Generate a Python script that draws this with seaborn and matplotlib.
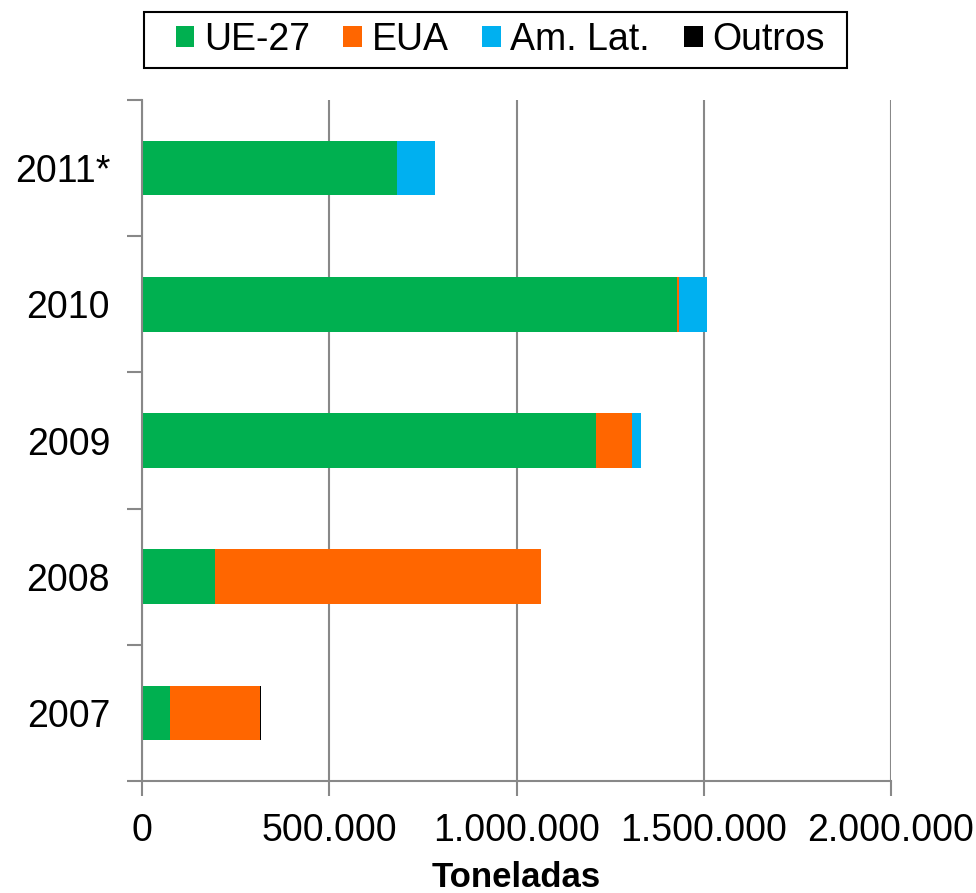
import matplotlib
matplotlib.use("Agg")
import matplotlib.pyplot as plt
import seaborn as sns
import numpy as np
import pandas as pd
from matplotlib.patches import Patch, Rectangle
from matplotlib.ticker import FuncFormatter, FixedLocator

# Data (toneladas)
anos = ["2011*", "2010", "2009", "2008", "2007"]
ue27 = [681000, 1428000, 1212000, 195000, 75000]
eua = [0, 5000, 96000, 871000, 240000]
amlat = [101000, 76000, 24000, 0, 0]
outros = [0, 0, 0, 0, 3000]

series_names = ["UE-27", "EUA", "Am. Lat.", "Outros"]
colors = ["#00B050", "#FF6600", "#00B0F0", "#000000"]

sns.set_theme(style="white")
plt.rcParams["font.family"] = ["Liberation Sans", "DejaVu Sans"]
plt.rcParams["text.color"] = "black"
plt.rcParams["axes.labelcolor"] = "black"
plt.rcParams["xtick.color"] = "black"
plt.rcParams["ytick.color"] = "black"

fig = plt.figure(figsize=(9.76, 8.93), dpi=100)
ax = fig.add_axes([142/976, 1 - 781/893, (891-142)/976, (781-100)/893])

vals = np.array([ue27, eua, amlat, outros], dtype=float)
cum = np.cumsum(vals, axis=0)

# draw cumulative totals from largest to smallest so stacking appears
for i in range(3, -1, -1):
    df = pd.DataFrame({"ano": anos, "v": cum[i]})
    sns.barplot(data=df, x="v", y="ano", order=anos, color=colors[i],
                width=0.4, orient="h", ax=ax, saturation=1,
                linewidth=0, edgecolor="none")

ax.set_xlim(0, 2000000)
ax.set_ylim(4.5, -0.5)
ax.xaxis.set_major_locator(FixedLocator([0, 500000, 1000000, 1500000, 2000000]))
ax.xaxis.set_major_formatter(FuncFormatter(lambda x, p: f"{int(x):,}".replace(",", ".")))
ax.grid(axis="x", color="#888888", linewidth=1.5)
ax.set_axisbelow(True)

for s in ["top", "right"]:
    ax.spines[s].set_visible(False)
for s in ["left", "bottom"]:
    ax.spines[s].set_color("#888888")
    ax.spines[s].set_linewidth(1.5)

ax.set_yticks(range(5))
ax.set_yticklabels(anos)
ax.set_yticks(np.arange(-0.5, 5, 1), minor=True)
ax.tick_params(axis="y", which="major", length=0, pad=23, labelsize=27, labelcolor="black")
ax.tick_params(axis="y", which="minor", length=11, width=1.5, color="#888888", direction="out", left=True)
ax.tick_params(axis="x", which="major", length=11, width=1.5, color="#888888", direction="out",
               bottom=True, labelsize=27, pad=12, labelcolor="black")

ax.set_ylabel("")
ax.set_xlabel("Toneladas", fontsize=25, fontweight="bold", labelpad=9, color="black")

handles = [Patch(facecolor=c, edgecolor="none", label=n) for c, n in zip(colors, series_names)]
leg = fig.legend(handles=handles, loc="center", bbox_to_anchor=(500/976, 1 - 40/893),
                 ncol=4, fontsize=27, frameon=False,
                 handlelength=0.5, handleheight=0.5, handletextpad=0.25, columnspacing=0.9,
                 borderpad=0.0, borderaxespad=0)
for t in leg.get_texts():
    t.set_color("black")

fig.patches.append(Rectangle((144/976, 1 - 68/893), (847-144)/976, (68-12)/893,
                             transform=fig.transFigure, fill=False, edgecolor="black",
                             linewidth=1.5))

fig.savefig("out.png", dpi=100)
